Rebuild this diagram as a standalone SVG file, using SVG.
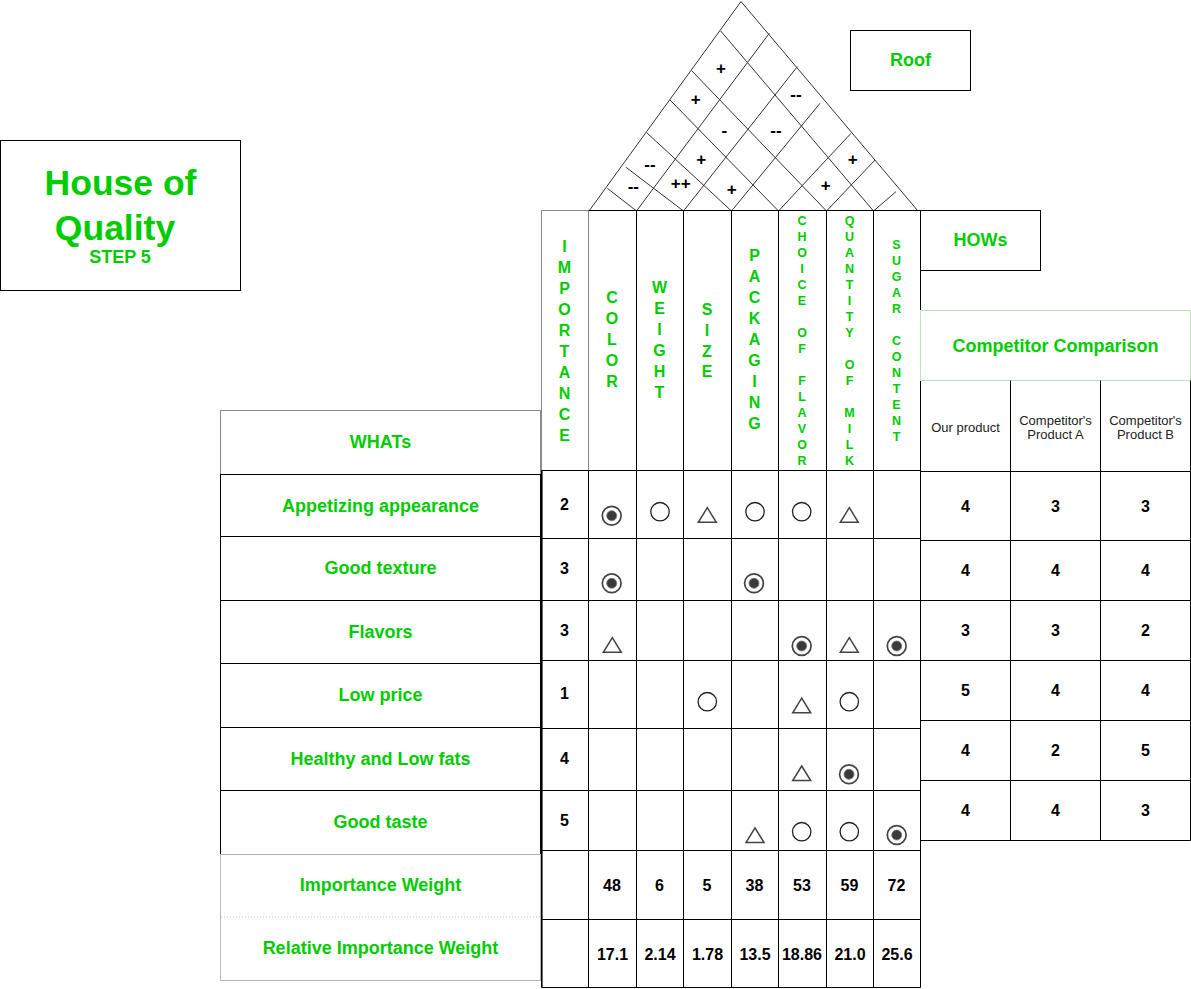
<svg xmlns="http://www.w3.org/2000/svg" width="1191" height="989" viewBox="0 0 1191 989">
<style>
text{font-family:"Liberation Sans",Arial,Helvetica,sans-serif}
.g{fill:#00CC00;font-weight:bold;text-anchor:middle}
.h{font-size:16px}
.hs{font-size:12.5px}
.lab{font-size:18px}
.num{fill:#000;font-weight:bold;font-size:16px;text-anchor:middle}
.rs{fill:#000;font-weight:bold;font-size:17px;text-anchor:middle}
.sm{fill:#222;font-size:13px;text-anchor:middle}
.k{stroke:#000;stroke-width:1;fill:none}
.gr{stroke:#8a8a8a;stroke-width:1;fill:none}
.lgr{stroke:#b5b5b5;stroke-width:1;fill:none}
.roof line{stroke:#333;stroke-width:1}
</style>
<defs>
<g id="strong"><circle r="9.4" fill="#fff" stroke="#444" stroke-width="1.7"/><circle r="5" fill="#3a3a3a" stroke="#777" stroke-width="0.8"/></g>
<g id="med"><circle r="9.2" fill="none" stroke="#222" stroke-width="1.3"/></g>
<g id="weak"><polygon points="0,-7.3 9,7.3 -9,7.3" fill="none" stroke="#444" stroke-width="1.5" stroke-linejoin="miter"/></g>
</defs>

<g id="title">
<rect x="0.5" y="140.5" width="240" height="150" class="k"/>
<text class="g" x="120.5" y="195" font-size="35.5">House of</text>
<text class="g" x="115" y="240" font-size="35.5">Quality</text>
<text class="g" x="120" y="263.3" font-size="18">STEP 5</text>
</g>

<g id="roof-label">
<rect x="850.5" y="30.5" width="120" height="60" class="k"/>
<text class="g lab" x="910.5" y="66.2">Roof</text>
</g>

<g id="hows-label">
<rect x="920.5" y="210.5" width="120" height="60" class="k"/>
<text class="g lab" x="980.5" y="246.4">HOWs</text>
</g>

<g id="roof" class="roof">
<line x1="589" y1="211" x2="741" y2="1.5"/>
<line x1="741" y1="1.5" x2="918" y2="211"/>
<line x1="636.5" y1="211" x2="769.3" y2="33.3"/>
<line x1="683.5" y1="211" x2="797.3" y2="66.7"/>
<line x1="731.5" y1="211" x2="820" y2="103.3"/>
<line x1="778.5" y1="211" x2="851" y2="133.3"/>
<line x1="826.5" y1="211" x2="875" y2="160"/>
<line x1="873.5" y1="211" x2="896" y2="191.7"/>
<line x1="720.7" y1="31" x2="873.5" y2="211"/>
<line x1="691.7" y1="70.7" x2="826.5" y2="211"/>
<line x1="670" y1="100" x2="778.5" y2="211"/>
<line x1="646.7" y1="132.7" x2="731.5" y2="211"/>
<line x1="626" y1="167.3" x2="683.5" y2="211"/>
<line x1="607.3" y1="188.3" x2="636.5" y2="211"/>
<text class="rs" x="721" y="73.6">+</text>
<text class="rs" x="695.7" y="105.2">+</text>
<text class="rs" x="724.3" y="135.6">-</text>
<text class="rs" x="650" y="169.6">--</text>
<text class="rs" x="701.3" y="165.2">+</text>
<text class="rs" x="633.3" y="191.9">--</text>
<text class="rs" x="680.7" y="189.2">++</text>
<text class="rs" x="731.7" y="195.2">+</text>
<text class="rs" x="796" y="100.3">--</text>
<text class="rs" x="776" y="135.6">--</text>
<text class="rs" x="852.7" y="165.2">+</text>
<text class="rs" x="825.7" y="190.9">+</text>
</g>

<g id="hows-headers">
<rect x="541.5" y="210.5" width="47" height="260" class="gr"/>
<line x1="588.5" y1="210.5" x2="920.5" y2="210.5" class="k"/>
<path class="k" d="M636.5 210.5V470.5M683.5 210.5V470.5M731.5 210.5V470.5M778.5 210.5V470.5M826.5 210.5V470.5M873.5 210.5V470.5M920.5 210.5V987.5"/>
<text class="g h"><tspan x="564.5" y="252.4">I</tspan><tspan x="564.5" y="273.3">M</tspan><tspan x="564.5" y="294.2">P</tspan><tspan x="564.5" y="315.1">O</tspan><tspan x="564.5" y="336">R</tspan><tspan x="564.5" y="356.9">T</tspan><tspan x="564.5" y="377.8">A</tspan><tspan x="564.5" y="398.7">N</tspan><tspan x="564.5" y="419.6">C</tspan><tspan x="564.5" y="440.5">E</tspan></text>
<text class="g h"><tspan x="612" y="303.4">C</tspan><tspan x="612" y="324.4">O</tspan><tspan x="612" y="345.4">L</tspan><tspan x="612" y="366.4">O</tspan><tspan x="612" y="387.4">R</tspan></text>
<text class="g h"><tspan x="659.5" y="293.4">W</tspan><tspan x="659.5" y="314.4">E</tspan><tspan x="659.5" y="335.4">I</tspan><tspan x="659.5" y="356.4">G</tspan><tspan x="659.5" y="377.4">H</tspan><tspan x="659.5" y="398.4">T</tspan></text>
<text class="g h"><tspan x="707" y="314.7">S</tspan><tspan x="707" y="335.6">I</tspan><tspan x="707" y="356.5">Z</tspan><tspan x="707" y="377.4">E</tspan></text>
<text class="g h"><tspan x="754.5" y="261.4">P</tspan><tspan x="754.5" y="282.4">A</tspan><tspan x="754.5" y="303.3">C</tspan><tspan x="754.5" y="324.3">K</tspan><tspan x="754.5" y="345.2">A</tspan><tspan x="754.5" y="366.2">G</tspan><tspan x="754.5" y="387.1">I</tspan><tspan x="754.5" y="408.1">N</tspan><tspan x="754.5" y="429">G</tspan></text>
<text class="g hs"><tspan x="802" y="225.2">C</tspan><tspan x="802" y="241.2">H</tspan><tspan x="802" y="257.2">O</tspan><tspan x="802" y="273.2">I</tspan><tspan x="802" y="289.2">C</tspan><tspan x="802" y="305.2">E</tspan><tspan x="802" y="337.2">O</tspan><tspan x="802" y="353.2">F</tspan><tspan x="802" y="385.2">F</tspan><tspan x="802" y="401.2">L</tspan><tspan x="802" y="417.2">A</tspan><tspan x="802" y="433.2">V</tspan><tspan x="802" y="449.2">O</tspan><tspan x="802" y="465.2">R</tspan></text>
<text class="g hs"><tspan x="849.5" y="225.2">Q</tspan><tspan x="849.5" y="241.2">U</tspan><tspan x="849.5" y="257.2">A</tspan><tspan x="849.5" y="273.2">N</tspan><tspan x="849.5" y="289.2">T</tspan><tspan x="849.5" y="305.2">I</tspan><tspan x="849.5" y="321.2">T</tspan><tspan x="849.5" y="337.2">Y</tspan><tspan x="849.5" y="369.2">O</tspan><tspan x="849.5" y="385.2">F</tspan><tspan x="849.5" y="417.2">M</tspan><tspan x="849.5" y="433.2">I</tspan><tspan x="849.5" y="449.2">L</tspan><tspan x="849.5" y="465.2">K</tspan></text>
<text class="g hs"><tspan x="896.5" y="248.8">S</tspan><tspan x="896.5" y="264.8">U</tspan><tspan x="896.5" y="280.8">G</tspan><tspan x="896.5" y="296.8">A</tspan><tspan x="896.5" y="312.8">R</tspan><tspan x="896.5" y="344.8">C</tspan><tspan x="896.5" y="360.8">O</tspan><tspan x="896.5" y="376.8">N</tspan><tspan x="896.5" y="392.8">T</tspan><tspan x="896.5" y="408.8">E</tspan><tspan x="896.5" y="424.8">N</tspan><tspan x="896.5" y="440.8">T</tspan></text>
</g>

<g id="whats">
<rect x="220.5" y="410.5" width="320" height="64" class="gr"/>
<text class="g lab" x="380.5" y="448">WHATs</text>
<rect x="220.5" y="474.5" width="320" height="62" class="k"/>
<rect x="220.5" y="536.5" width="320" height="64" class="k"/>
<rect x="220.5" y="600.5" width="320" height="63" class="k"/>
<rect x="220.5" y="663.5" width="320" height="64" class="k"/>
<rect x="220.5" y="727.5" width="320" height="63" class="k"/>
<rect x="220.5" y="790.5" width="320" height="64" class="k"/>
<text class="g lab" x="380.5" y="511.5">Appetizing appearance</text>
<text class="g lab" x="380.5" y="574">Good texture</text>
<text class="g lab" x="380.5" y="638">Flavors</text>
<text class="g lab" x="380.5" y="701.4">Low price</text>
<text class="g lab" x="380.5" y="765.4">Healthy and Low fats</text>
<text class="g lab" x="380.5" y="828">Good taste</text>
</g>

<g id="weights-labels">
<rect x="220.5" y="854.5" width="320" height="126" class="lgr"/>
<line x1="221" y1="917" x2="540" y2="917" stroke="#a9d9a9" stroke-width="1" stroke-dasharray="1 2"/>
<text class="g lab" x="380.5" y="891.4">Importance Weight</text>
<text class="g lab" x="380.5" y="954">Relative Importance Weight</text>
</g>

<g id="matrix">
<path class="k" d="M541.5 470.5H920.5M541.5 538.5H920.5M541.5 600.5H920.5M541.5 660.5H920.5M541.5 728.5H920.5M541.5 790.5H920.5M541.5 850.5H920.5M541.5 919.5H920.5M541.5 987.5H920.5"/>
<path class="k" d="M588.5 470.5V987.5M636.5 470.5V987.5M683.5 470.5V987.5M731.5 470.5V987.5M778.5 470.5V987.5M826.5 470.5V987.5M873.5 470.5V987.5"/>
<line x1="541.8" y1="470.5" x2="541.8" y2="987.5" stroke="#000" stroke-width="1.6"/>
<text class="num" x="564.5" y="510">2</text>
<text class="num" x="564.5" y="574">3</text>
<text class="num" x="564.5" y="635.7">3</text>
<text class="num" x="564.5" y="699">1</text>
<text class="num" x="564.5" y="764">4</text>
<text class="num" x="564.5" y="825.7">5</text>
<use href="#strong" x="611.7" y="515.7"/>
<use href="#med" x="660" y="511.7"/>
<use href="#weak" x="707.3" y="515"/>
<use href="#med" x="755" y="511.7"/>
<use href="#med" x="801.7" y="511.7"/>
<use href="#weak" x="849.3" y="515"/>
<use href="#strong" x="611.7" y="583.3"/>
<use href="#strong" x="754" y="583.3"/>
<use href="#weak" x="612.3" y="645"/>
<use href="#strong" x="801.7" y="646"/>
<use href="#weak" x="849.3" y="645"/>
<use href="#strong" x="896.7" y="646"/>
<use href="#med" x="707.3" y="701.7"/>
<use href="#weak" x="801.7" y="705.5"/>
<use href="#med" x="849.3" y="701.7"/>
<use href="#weak" x="801.7" y="773.3"/>
<use href="#strong" x="849" y="774.3"/>
<use href="#weak" x="755" y="835.2"/>
<use href="#med" x="801.7" y="831.7"/>
<use href="#med" x="849.3" y="831.7"/>
<use href="#strong" x="896.7" y="835"/>
<text class="num" x="612" y="890.7">48</text>
<text class="num" x="659.5" y="890.7">6</text>
<text class="num" x="707" y="890.7">5</text>
<text class="num" x="754.5" y="890.7">38</text>
<text class="num" x="802" y="890.7">53</text>
<text class="num" x="849.5" y="890.7">59</text>
<text class="num" x="896.5" y="890.7">72</text>
<text class="num" x="612.5" y="959.7">17.1</text>
<text class="num" x="660" y="959.7">2.14</text>
<text class="num" x="707.5" y="959.7">1.78</text>
<text class="num" x="755" y="959.7">13.5</text>
<text class="num" x="802" y="959.7">18.86</text>
<text class="num" x="850" y="959.7">21.0</text>
<text class="num" x="897" y="959.7">25.6</text>
</g>

<g id="competitor-comparison">
<rect x="920.5" y="310.5" width="270" height="70" fill="none" stroke="#bfe3bf" stroke-width="1"/>
<text class="g lab" x="1055.5" y="351.7">Competitor Comparison</text>
<path class="k" d="M1010.5 380.5V840.5M1100.5 380.5V840.5M1190.5 380.5V840.5M920.5 471.5H1190.5M920.5 540.5H1190.5M920.5 600.5H1190.5M920.5 660.5H1190.5M920.5 720.5H1190.5M920.5 780.5H1190.5M920.5 840.5H1190.5"/>
<text class="sm" x="965.5" y="431.7">Our product</text>
<text class="sm" x="1055.5" y="425">Competitor's</text>
<text class="sm" x="1055.5" y="438.5">Product A</text>
<text class="sm" x="1145.5" y="425">Competitor's</text>
<text class="sm" x="1145.5" y="438.5">Product B</text>
<text class="num" x="965.5" y="512.4">4</text><text class="num" x="1055.5" y="512.4">3</text><text class="num" x="1145.5" y="512.4">3</text>
<text class="num" x="965.5" y="575.7">4</text><text class="num" x="1055.5" y="575.7">4</text><text class="num" x="1145.5" y="575.7">4</text>
<text class="num" x="965.5" y="635.7">3</text><text class="num" x="1055.5" y="635.7">3</text><text class="num" x="1145.5" y="635.7">2</text>
<text class="num" x="965.5" y="695.7">5</text><text class="num" x="1055.5" y="695.7">4</text><text class="num" x="1145.5" y="695.7">4</text>
<text class="num" x="965.5" y="755.7">4</text><text class="num" x="1055.5" y="755.7">2</text><text class="num" x="1145.5" y="755.7">5</text>
<text class="num" x="965.5" y="815.7">4</text><text class="num" x="1055.5" y="815.7">4</text><text class="num" x="1145.5" y="815.7">3</text>
</g>

<g id="connectors"></g>
</svg>
